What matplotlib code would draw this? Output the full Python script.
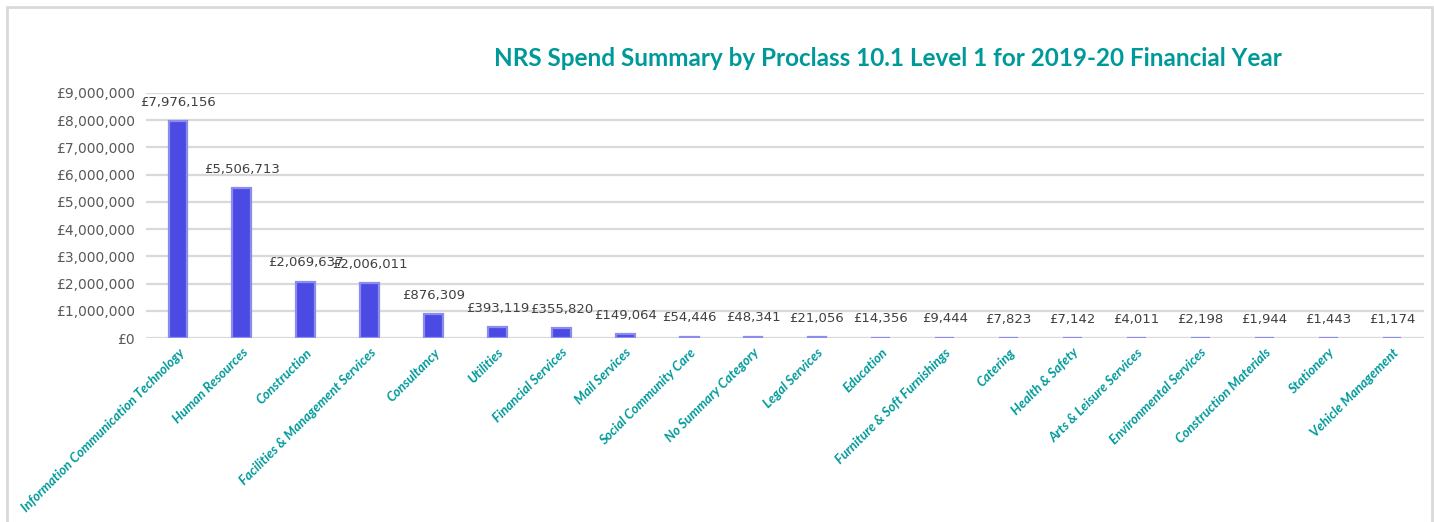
import matplotlib
matplotlib.use("Agg")
import matplotlib.pyplot as plt
from matplotlib.patches import Rectangle

categories = [
    "Information Communication Technology", "Human Resources", "Construction",
    "Facilities & Management Services", "Consultancy", "Utilities",
    "Financial Services", "Mail Services", "Social Community Care",
    "No Summary Category", "Legal Services", "Education",
    "Furniture & Soft Furnishings", "Catering", "Health & Safety",
    "Arts & Leisure Services", "Environmental Services",
    "Construction Materials", "Stationery", "Vehicle Management",
]
values = [7976156, 5506713, 2069637, 2006011, 876309, 393119, 355820,
          149064, 54446, 48341, 21056, 14356, 9444, 7823, 7142, 4011,
          2198, 1944, 1443, 1174]
yticks = list(range(0, 9000001, 1000000))

TEAL = "#009999"
BAR = "#4B4BE3"
GRID = "#D9D9D9"

fig = plt.figure(figsize=(14.34, 5.22), dpi=100)
ax = fig.add_axes([146/1434, 1 - 338/522, (1424-146)/1434, (338-93)/522])

x = list(range(len(categories)))
ax.bar(x, values, width=0.295, color=BAR, edgecolor="#8C8CF0", linewidth=1.6,
       zorder=3)
ax.set_xlim(-0.5, len(categories) - 0.5)
ax.set_ylim(0, 9000000)
ax.set_yticks(yticks)
ax.set_yticklabels([f"£{v:,}" for v in yticks], color="#595959", fontsize=10,
                   family="DejaVu Sans")
ax.yaxis.grid(True, color=GRID, lw=1.6, zorder=0)
ax.tick_params(axis="both", length=0)
ax.tick_params(axis="y", pad=8)
for s in ax.spines.values():
    s.set_visible(False)

ax.set_xticks(x)
ax.set_xticklabels(categories, rotation=45, ha="right", rotation_mode="anchor",
                   color=TEAL, fontsize=9.5, style="italic", fontweight="bold",
                   family="Lato")
ax.tick_params(axis="x", pad=6)

for xi, v in zip(x, values):
    ax.annotate(f"£{v:,}", (xi, v), xytext=(0, 13.5), textcoords="offset points",
                ha="center", va="center", fontsize=9.5, color="#404040",
                family="DejaVu Sans")

fig.text(888/1434, 1 - 58/522, "NRS Spend Summary by Proclass 10.1 Level 1 for 2019-20 Financial Year",
         ha="center", va="center", fontsize=17.5, fontweight="bold", color=TEAL,
         family="Lato")

fig.patches.append(Rectangle((7/1434, -0.1), (1432-7)/1434, 1.1 - 7/522,
                             transform=fig.transFigure, fill=False,
                             edgecolor=GRID, lw=2))

fig.savefig("out.png", dpi=100)
